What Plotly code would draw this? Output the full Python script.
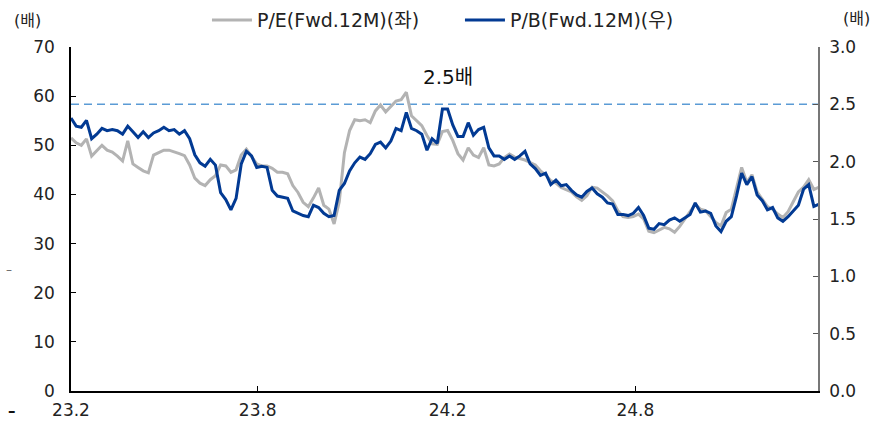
import pandas as pd
import plotly.graph_objects as go

start_date = "2023-02-01"

pe = [51.5, 50.5, 50.0, 51.3, 47.8, 49.0, 50.0, 49.0, 48.6, 47.8,
      46.8, 50.9, 46.2, 45.5, 44.8, 44.4, 48.0, 48.5, 49.0, 49.0,
      48.7, 48.3, 47.9, 46.0, 43.3, 42.3, 41.8, 43.0, 43.8, 46.0,
      45.8, 44.5, 45.0, 48.0, 49.2, 47.8, 46.2, 45.8, 45.8, 45.3,
      44.5, 44.5, 44.2, 41.8, 40.4, 38.4, 37.5, 39.3, 41.3, 37.8,
      37.0, 34.0, 38.5, 48.5, 53.0, 55.2, 55.0, 55.2, 54.6, 57.0,
      58.2, 56.8, 58.0, 59.0, 59.3, 60.8, 56.0, 55.0, 54.0, 52.0,
      50.3, 50.2, 52.8, 53.0, 51.0, 48.3, 47.0, 49.5, 48.0, 47.5,
      49.5, 46.0, 45.8, 46.2, 47.5, 48.2, 47.6, 47.3, 47.0, 46.5,
      46.0, 44.8, 44.0, 42.8, 42.3, 41.4, 41.0, 40.5, 39.5, 38.8,
      39.7, 41.5, 41.3, 40.5, 39.7, 38.7, 36.7, 35.5, 35.3, 35.5,
      36.0, 35.0, 32.5, 32.2, 32.8, 33.3, 33.0, 32.3, 33.5, 35.0,
      36.5, 38.0, 37.0, 36.7, 35.5, 34.3, 33.6, 36.3, 37.0, 41.1,
      45.5, 42.5, 44.0, 40.5, 39.0, 37.5, 37.0, 36.0, 35.3, 36.5,
      38.5, 40.5, 41.5, 43.0, 41.0, 41.5]

pb = [2.38, 2.31, 2.30, 2.36, 2.20, 2.24, 2.29, 2.27, 2.28, 2.27,
      2.24, 2.31, 2.26, 2.21, 2.26, 2.21, 2.25, 2.27, 2.30, 2.27,
      2.28, 2.24, 2.27, 2.20, 2.06, 1.99, 1.96, 2.02, 1.97, 1.73,
      1.67, 1.58, 1.68, 1.98, 2.09, 2.05, 1.95, 1.96, 1.95, 1.75,
      1.70, 1.69, 1.68, 1.57, 1.55, 1.53, 1.52, 1.62, 1.60, 1.55,
      1.52, 1.53, 1.75, 1.81, 1.92, 1.99, 2.04, 2.02, 2.07, 2.15,
      2.17, 2.12, 2.18, 2.29, 2.27, 2.43, 2.29, 2.27, 2.24, 2.10,
      2.20, 2.16, 2.46, 2.46, 2.32, 2.22, 2.22, 2.34, 2.23, 2.28,
      2.30, 2.12, 2.05, 2.05, 2.02, 2.05, 2.02, 2.05, 2.09, 1.98,
      1.94, 1.88, 1.90, 1.80, 1.84, 1.79, 1.80, 1.75, 1.71, 1.69,
      1.74, 1.77, 1.72, 1.69, 1.64, 1.63, 1.54, 1.54, 1.53, 1.55,
      1.60, 1.53, 1.42, 1.41, 1.46, 1.45, 1.49, 1.51, 1.48, 1.51,
      1.54, 1.64, 1.56, 1.57, 1.55, 1.44, 1.39, 1.48, 1.52, 1.70,
      1.90, 1.80, 1.87, 1.71, 1.66, 1.58, 1.60, 1.51, 1.48, 1.52,
      1.57, 1.62, 1.76, 1.80, 1.61, 1.63]

dates = pd.date_range(start_date, periods=len(pe), freq="5D")

x_tick_vals = ["2023-02-01", "2023-08-01", "2024-02-01", "2024-08-01"]
x_tick_text = ["23.2", "23.8", "24.2", "24.8"]
x_range = ["2023-02-01", "2025-01-25"]
left_ticks = [0, 10, 20, 30, 40, 50, 60, 70]
right_ticks = [0.0, 0.5, 1.0, 1.5, 2.0, 2.5, 3.0]
ref_pb = 2.5
ref_label = "2.5배"
pe_name = "P/E(Fwd.12M)(좌)"
pb_name = "P/B(Fwd.12M)(우)"
unit_label = "(배)"

FONT = "DejaVu Sans, Noto Sans CJK KR, sans-serif"

fig = go.Figure()
fig.add_trace(go.Scatter(x=dates, y=pe, name=pe_name, mode="lines",
                         line=dict(color="#b3b3b3", width=3), yaxis="y"))
fig.add_trace(go.Scatter(x=dates, y=pb, name=pb_name, mode="lines",
                         line=dict(color="#023a93", width=3), yaxis="y2"))

fig.add_shape(type="line", xref="paper", x0=0, x1=1, yref="y2", y0=ref_pb, y1=ref_pb,
              line=dict(color="#5b9bd5", width=1.5, dash="8px,5px"), layer="below")

fig.add_annotation(text=ref_label, x="2024-02-01", y=ref_pb, yref="y2", xref="x",
                   showarrow=False, xanchor="center", yanchor="middle", yshift=27,
                   font=dict(family=FONT, size=20, color="#111"))

fig.add_annotation(text=unit_label, xref="paper", yref="paper", x=-0.0576, y=1.078,
                   xanchor="center", yanchor="middle",
                   showarrow=False, font=dict(family=FONT, size=16, color="#222"))
fig.add_annotation(text=unit_label, xref="paper", yref="paper", x=1.051, y=1.084,
                   xanchor="center", yanchor="middle",
                   showarrow=False, font=dict(family=FONT, size=16, color="#222"))
fig.add_annotation(text="–", xref="paper", yref="paper", x=-0.083, y=0.352,
                   xanchor="center", yanchor="middle",
                   showarrow=False, font=dict(family=FONT, size=12, color="#666"))
fig.add_annotation(text="<b>–</b>", xref="paper", yref="paper", x=-0.079, y=-0.058,
                   xanchor="center", yanchor="middle",
                   showarrow=False, font=dict(family=FONT, size=15, color="#111"))

axis_font = dict(family=FONT, size=17, color="#222")

fig.update_layout(
    width=875, height=423,
    margin=dict(l=71, r=57, t=47, b=32, autoexpand=False),
    plot_bgcolor="white", paper_bgcolor="white",
    font=dict(family=FONT, size=16, color="#222"),
    showlegend=True,
    legend=dict(orientation="h", x=0.182, xanchor="left", y=1.078, yanchor="middle",
                font=dict(family=FONT, size=19, color="#222"), bgcolor="rgba(0,0,0,0)",
                itemwidth=40, entrywidth=198),
    xaxis=dict(type="date", range=x_range, tickvals=x_tick_vals, ticktext=x_tick_text,
               ticks="inside", ticklen=5, tickcolor="#000", showline=True, linecolor="#000",
               linewidth=1.5, showgrid=False, zeroline=False, tickfont=axis_font,
               ticklabelstandoff=3, automargin=False),
    yaxis=dict(range=[0, 70], tickvals=left_ticks, ticks="inside", ticklen=5, tickcolor="#000",
               showline=True, linecolor="#000", linewidth=1.5, showgrid=False, zeroline=False,
               tickfont=axis_font, ticklabelstandoff=11, automargin=False),
    yaxis2=dict(range=[0, 3], tickvals=right_ticks, tickformat=".1f", overlaying="y", side="right",
                ticks="inside", ticklen=5, tickcolor="#555", showline=True, linecolor="#777",
                linewidth=1.5, showgrid=False, zeroline=False, tickfont=axis_font,
                ticklabelstandoff=6, automargin=False),
)

fig.write_html("out.html", config={"displayModeBar": False},
               post_script="document.body.style.margin='0';")
